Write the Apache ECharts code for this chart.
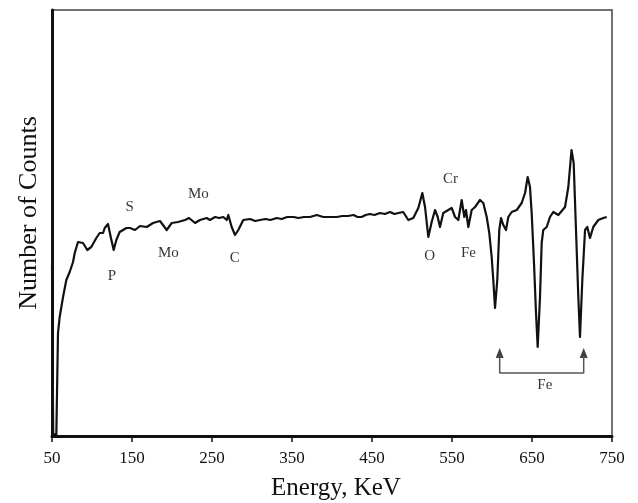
<!DOCTYPE html>
<html>
<head>
<meta charset="utf-8">
<script src="https://cdn.jsdelivr.net/npm/echarts@6/dist/echarts.min.js"></script>
<style>
  html, body { margin: 0; padding: 0; background: #fff; }
  #chart { width: 638px; height: 503px; }
</style>
</head>
<body>
<div id="chart"></div>
<script>
// energy (KeV) and counts, arbitrary y units
const energy = [
  50, 51.5, 55.4, 57.5, 59.6, 63.8, 67.9, 72.1, 76.3, 78.4,
  82.5, 84.6, 88.8, 94.1, 99.1, 105.4, 109.6, 111.3, 113.8, 115.9,
  120, 123.4, 127.1, 130.4, 134.6, 138.8, 143, 147.5, 153.8, 160,
  168.4, 176.3, 185, 193.4, 199.6, 207.5, 216.3, 221.3, 228.8, 235,
  243.4, 247.5, 253.8, 259, 264.1, 268.4, 270.4, 274.6, 278.8, 282.9,
  289.1, 297.5, 304, 310, 317, 323, 331, 337, 344, 352,
  358, 365, 372.5, 381, 389, 397.5, 406, 413, 420, 427,
  432, 437, 442, 447.5, 453, 460, 466, 472.5, 478, 483,
  489, 495.4, 501.6, 507.9, 512.9, 516.3, 520.4, 524.6, 528.8, 532.1,
  535, 539.1, 545.4, 549.6, 553.8, 557.9, 562.1, 565.4, 567.5, 570.4,
  574.6, 578.8, 585, 589.1, 593.4, 596.6, 599.6, 601.6, 603.8, 606.6,
  609.1, 611.3, 614.1, 617.5, 620.4, 624.6, 630.9, 637.1, 641.3, 644.6,
  647.5, 649.6, 652.5, 655, 657.1, 660, 662.1, 664.1, 668.4, 672.5,
  676.6, 682.9, 691.3, 695.4, 699.4, 702.1, 705, 707.9, 710, 712.9,
  716.3, 719.1, 722.5, 726.6, 732.9, 739.1, 743.4
]
const counts = [
  170, 2, 1, 103, 119, 139, 156, 164, 174, 183,
  194, 196, 193, 186, 189, 198, 203, 205, 203, 208,
  212, 199, 186, 196, 204, 206, 208, 208, 206, 210,
  209, 213, 215, 206, 213, 214, 216, 218, 213, 216,
  218, 216, 219, 218, 219, 216, 221, 209, 201, 206,
  216, 217, 215, 216, 217, 216, 218, 217, 219, 219,
  218, 219, 219, 221, 219, 219, 219, 220, 220, 221,
  219, 219, 221, 222, 221, 223, 222, 224, 222, 223,
  224, 216, 218, 228, 243, 229, 199, 214, 226, 219,
  209, 223, 226, 228, 219, 216, 236, 219, 226, 209,
  226, 229, 236, 233, 219, 203, 179, 156, 128, 156,
  206, 218, 211, 206, 219, 224, 226, 233, 243, 259,
  249, 223, 173, 123, 89, 139, 193, 206, 209, 219,
  224, 221, 229, 249, 286, 273, 206, 139, 99, 156,
  206, 209, 198, 209, 216, 218, 219
]

const xTicks = [50, 150, 250, 350, 450, 550, 650, 750]

// peak annotations
const peakNames = ['S', 'P', 'Mo', 'Mo', 'C', 'O', 'Cr', 'Fe', 'Fe']
const peakE = [147, 125, 195.5, 233, 278.5, 522, 548, 570.5, 666]
const peakV = [229, 160, 183, 242, 178, 180, 257, 183, 51]

// Fe bracket under the big dips
const bracketE = [609.6, 609.6, 714.6, 714.6]
const bracketV = [80, 63, 63, 80]
const arrowE = [609.6, 714.6]
const arrowV = [83, 83]

const serif = 'Liberation Serif'

const chart = echarts.init(document.getElementById('chart'))

const option = {
  backgroundColor: '#fff',
  animation: false,
  grid: {
    left: 52,
    right: 26,
    top: 10,
    bottom: 67,
    containLabel: false,
    outerBoundsMode: 'none',
    show: true,
    borderColor: '#444',
    borderWidth: 1.5
  },
  xAxis: {
    type: 'value',
    min: 50,
    max: 750,
    name: 'Energy, KeV',
    nameLocation: 'middle',
    nameGap: 40,
    nameTextStyle: { fontFamily: serif, fontSize: 25, color: '#111', padding: [0, 0, 0, 8] },
    axisLine: { show: true, onZero: false, lineStyle: { color: '#111', width: 3 } },
    axisTick: { show: true, length: 6, lineStyle: { color: '#111', width: 1.5 }, customValues: xTicks },
    axisLabel: { fontFamily: serif, fontSize: 17, color: '#111', margin: 14, customValues: xTicks },
    splitLine: { show: false }
  },
  yAxis: {
    type: 'value',
    min: 0,
    max: 426,
    name: 'Number of Counts',
    nameLocation: 'middle',
    nameGap: 10,
    nameRotate: 90,
    nameTextStyle: { fontFamily: serif, fontSize: 26, color: '#111', padding: [0, 0, 0, 20] },
    axisLine: { show: true, onZero: false, lineStyle: { color: '#111', width: 3 } },
    axisTick: { show: false },
    axisLabel: { show: false },
    splitLine: { show: false }
  },
  series: [
    {
      name: 'spectrum',
      type: 'line',
      showSymbol: false,
      smooth: false,
      lineStyle: { color: '#111', width: 2.2, join: 'round' },
      data: energy.map((e, i) => [e, counts[i]])
    },
    {
      name: 'bracket',
      type: 'line',
      showSymbol: false,
      lineStyle: { color: '#555', width: 1.5 },
      data: bracketE.map((e, i) => [e, bracketV[i]])
    },
    {
      name: 'arrows',
      type: 'scatter',
      symbol: 'triangle',
      symbolSize: [8, 10],
      itemStyle: { color: '#111' },
      data: arrowE.map((e, i) => [e, arrowV[i]])
    },
    {
      name: 'peaks',
      type: 'scatter',
      symbolSize: 1,
      itemStyle: { color: 'rgba(0,0,0,0)' },
      label: {
        show: true,
        position: 'inside',
        fontFamily: serif,
        fontSize: 15,
        color: '#000',
        formatter: p => peakNames[p.dataIndex]
      },
      data: peakE.map((e, i) => [e, peakV[i]])
    }
  ]
}

chart.setOption(option)
</script>
</body>
</html>
